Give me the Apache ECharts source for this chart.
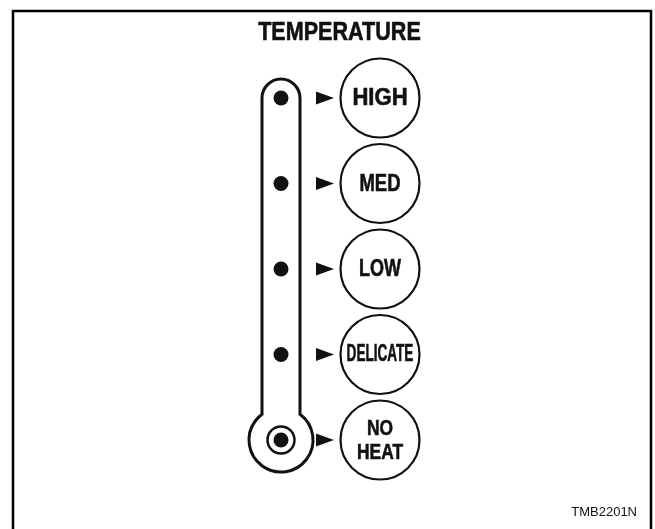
<!DOCTYPE html>
<html>
<head>
    <meta http-equiv="Content-Type" content="text/html; charset=UTF-8">
    <title>Temperature</title>
    <script src="https://cdn.jsdelivr.net/npm/echarts@6/dist/echarts.min.js"></script>
    <style>
        html, body { margin: 0; padding: 0; background: #fff; }
        #main { width: 655px; height: 529px; }
    </style>
</head>
<body>
<div id="main"></div>
<script type="text/javascript">
    // selector positions, top to bottom
    var levels = ['HIGH', 'MED', 'LOW', 'DELICATE', 'NO\nHEAT'];
    var levelIndex = [0, 1, 2, 3, 4];
    var markerType = ['dot', 'dot', 'dot', 'dot', 'bulb'];
    var titleText = 'TEMPERATURE';
    var figureCode = 'TMB2201N';

    // layout columns (x on a 0..655 axis)
    var TUBE_X = 281;
    var ARROW_X = 325;
    var DIAL_X = 380;
    var INK = '#111';
    var FONT = '"Liberation Sans", Arial, sans-serif';

    // how much each word is squeezed to sit in its dial (the print uses a condensed face)
    var labelLook = {
        'HIGH': { size: 24, squeeze: 0.92 },
        'MED': { size: 24, squeeze: 0.77 },
        'LOW': { size: 24, squeeze: 0.75 },
        'DELICATE': { size: 23, squeeze: 0.59 },
        'NO\nHEAT': { size: 22, squeeze: 0.79 }
    };

    var myChart = echarts.init(document.getElementById('main'));

    var dotData = [];
    var ringData = [];
    levelIndex.forEach(function (v, i) {
        dotData.push([TUBE_X, v]);
        if (markerType[i] === 'bulb') {
            ringData.push([TUBE_X, v]);
        }
    });

    var option = {
        animation: false,
        grid: { left: 0, top: 98, width: 655, height: 342 },
        xAxis: { type: 'value', min: 0, max: 655, show: false },
        yAxis: { type: 'value', min: 0, max: 4, inverse: true, show: false },
        graphic: [
            {
                type: 'rect',
                shape: { x: 13, y: 11, width: 638, height: 560 },
                style: { fill: 'none', stroke: '#000', lineWidth: 2.5 }
            },
            {
                type: 'text',
                x: 339.5,
                y: 33,
                scaleX: 0.83,
                style: {
                    text: titleText,
                    x: 0,
                    y: 0,
                    align: 'center',
                    verticalAlign: 'middle',
                    font: 'bold 26px ' + FONT,
                    fill: INK,
                    stroke: INK,
                    lineWidth: 0.6
                }
            },
            {
                type: 'text',
                right: 18,
                top: 506,
                style: {
                    text: figureCode,
                    font: '13px ' + FONT,
                    fill: INK
                }
            }
        ],
        series: [
            {
                // thermometer outline: tube from first level down to bulb
                type: 'custom',
                clip: false,
                data: [[levelIndex[0], levelIndex[levelIndex.length - 1]]],
                renderItem: function (params, api) {
                    var top = api.coord([TUBE_X, api.value(0)]);
                    var bot = api.coord([TUBE_X, api.value(1)]);
                    var cx = top[0], hw = 19, R = 32;
                    var jy = bot[1] - Math.sqrt(R * R - hw * hw);
                    var d = 'M' + (cx - hw) + ' ' + jy +
                        ' L' + (cx - hw) + ' ' + top[1] +
                        ' A' + hw + ' ' + hw + ' 0 0 1 ' + (cx + hw) + ' ' + top[1] +
                        ' L' + (cx + hw) + ' ' + jy +
                        ' A' + R + ' ' + R + ' 0 1 1 ' + (cx - hw) + ' ' + jy + ' Z';
                    return {
                        type: 'path',
                        shape: { pathData: d },
                        style: { fill: 'none', stroke: INK, lineWidth: 3 }
                    };
                }
            },
            {
                type: 'scatter',
                clip: false,
                data: ringData,
                symbol: 'circle',
                symbolSize: 27,
                itemStyle: { color: '#fff', borderColor: INK, borderWidth: 2.5, opacity: 1 }
            },
            {
                type: 'scatter',
                clip: false,
                data: dotData,
                symbol: 'circle',
                symbolSize: 15,
                itemStyle: { color: INK, opacity: 1 }
            },
            {
                type: 'scatter',
                clip: false,
                data: levelIndex.map(function (v) { return [ARROW_X, v]; }),
                symbol: 'triangle',
                symbolSize: [13, 18],
                symbolRotate: -90,
                itemStyle: { color: INK, opacity: 1 }
            },
            {
                // dials with their words
                type: 'custom',
                clip: false,
                data: levels.map(function (name, i) { return [DIAL_X, levelIndex[i]]; }),
                renderItem: function (params, api) {
                    var p = api.coord([api.value(0), api.value(1)]);
                    var name = levels[params.dataIndex];
                    var look = labelLook[name];
                    return {
                        type: 'group',
                        children: [
                            {
                                type: 'circle',
                                shape: { cx: p[0], cy: p[1], r: 39.5 },
                                style: { fill: '#fff', stroke: INK, lineWidth: 2.2 }
                            },
                            {
                                type: 'text',
                                x: p[0],
                                y: p[1] + 0.5,
                                scaleX: look.squeeze,
                                style: {
                                    text: name,
                                    x: 0,
                                    y: 0,
                                    align: 'center',
                                    verticalAlign: 'middle',
                                    font: 'bold ' + look.size + 'px ' + FONT,
                                    lineHeight: look.size + 2,
                                    fill: INK,
                                    stroke: INK,
                                    lineWidth: 0.6
                                }
                            }
                        ]
                    };
                }
            }
        ]
    };
    myChart.setOption(option);
</script>
</body>
</html>
